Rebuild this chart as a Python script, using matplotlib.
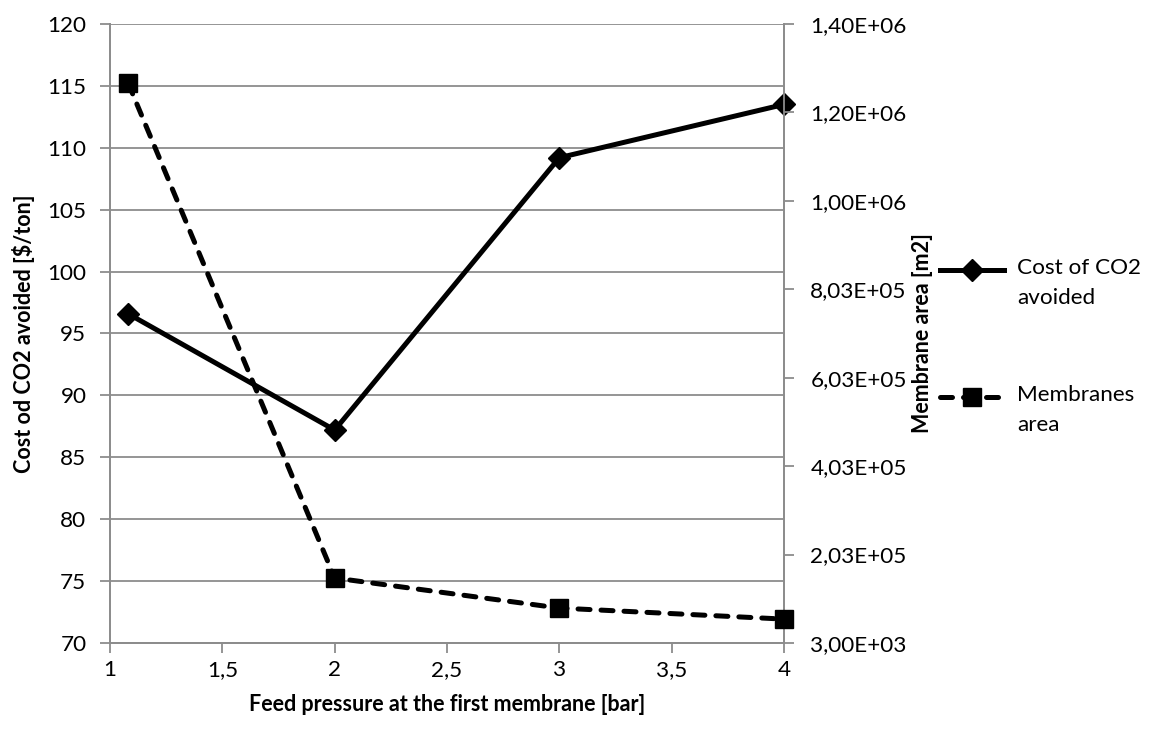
import matplotlib
matplotlib.use("Agg")
import matplotlib.pyplot as plt
from matplotlib.lines import Line2D
from matplotlib.ticker import FuncFormatter

plt.rcParams['font.family'] = ['Lato', 'DejaVu Sans']

# Feed pressure at the first membrane [bar]
pressure = [1.08, 2, 3, 4]
# Cost of CO2 avoided [$/ton]
cost_avoided = [96.6, 87.2, 109.2, 113.5]
# Membranes area [m2]
membrane_area = [1.27e6, 1.50e5, 8.2e4, 5.7e4]

x_ticks = [1, 1.5, 2, 2.5, 3, 3.5, 4]
left_ticks = list(range(70, 121, 5))
right_ticks = [3.0e3 + 2.0e5 * i for i in range(8)]

FS_TICK = 16.2
FS_LABEL = 15.5
grid_col = '#8c8c8c'
dash = (0, (2.4, 2.2))

fig = plt.figure(figsize=(11.57, 7.31), dpi=100)
ax = fig.add_axes([0.0951, 0.1204, 0.5825, 0.8468])
ax2 = ax.twinx()

ax.set_xlim(1, 4)
ax.set_ylim(70, 120)
ax2.set_ylim(3.0e3, 1.403e6)

ax.set_xticks(x_ticks)
ax.set_yticks(left_ticks)
ax2.set_yticks(right_ticks)

ax.xaxis.set_major_formatter(FuncFormatter(lambda v, p: f"{v:g}".replace('.', ',')))
ax.yaxis.set_major_formatter(FuncFormatter(lambda v, p: f"{v:.0f}"))
ax2.yaxis.set_major_formatter(FuncFormatter(lambda v, p: f"{v:.2E}".replace('.', ',')))

ax.yaxis.grid(True, color=grid_col, linewidth=1.3)
ax.set_axisbelow(True)

for a in (ax, ax2):
    for s in a.spines.values():
        s.set_color(grid_col)
        s.set_linewidth(1.3)
    a.spines['top'].set_visible(False)
    a.tick_params(colors=grid_col, labelcolor='black', labelsize=FS_TICK,
                  width=1.3, length=7, direction='out')
ax.tick_params(axis='x', pad=5)
ax.tick_params(axis='y', pad=10)
ax2.tick_params(axis='y', pad=12)

ax.plot(pressure, cost_avoided, color='black', linewidth=3.6,
        marker='D', markersize=11, zorder=3, clip_on=False)
ax2.plot(pressure, membrane_area, color='black', linewidth=3.6,
         linestyle=dash, dash_capstyle='round',
         marker='s', markersize=13, zorder=3, clip_on=False)

ax.set_xlabel('Feed pressure at the first membrane [bar]', fontsize=FS_LABEL,
              fontweight='bold', labelpad=10)
ax.set_ylabel('Cost od CO2 avoided [$/ton]', fontsize=FS_LABEL,
              fontweight='bold', labelpad=9)
ax2.set_ylabel('Membrane area [m2]', fontsize=FS_LABEL, fontweight='bold',
               labelpad=4)

# Legend drawn at the figure level, handle aligned with the first label line
W, H = 1157, 731
entries = [
    (dict(color='black', linewidth=3.6), 'D', 11, 'Cost of CO2\navoided', 270),
    (dict(color='black', linewidth=3.6, linestyle=dash, dash_capstyle='round'),
     's', 13, 'Membranes\narea', 397),
]
for style, mk, ms, label, ypix in entries:
    yf = 1 - ypix / H
    fig.add_artist(Line2D([940 / W, 1004 / W], [yf, yf],
                          transform=fig.transFigure, **style))
    fig.add_artist(Line2D([972 / W], [yf], transform=fig.transFigure,
                          color='black', marker=mk, markersize=ms,
                          linestyle='none'))
    fig.text(1017 / W, yf + 12 / H, label, fontsize=FS_TICK, va='top', ha='left',
             linespacing=1.6, transform=fig.transFigure)

fig.savefig('out.png', dpi=100, facecolor='white')
